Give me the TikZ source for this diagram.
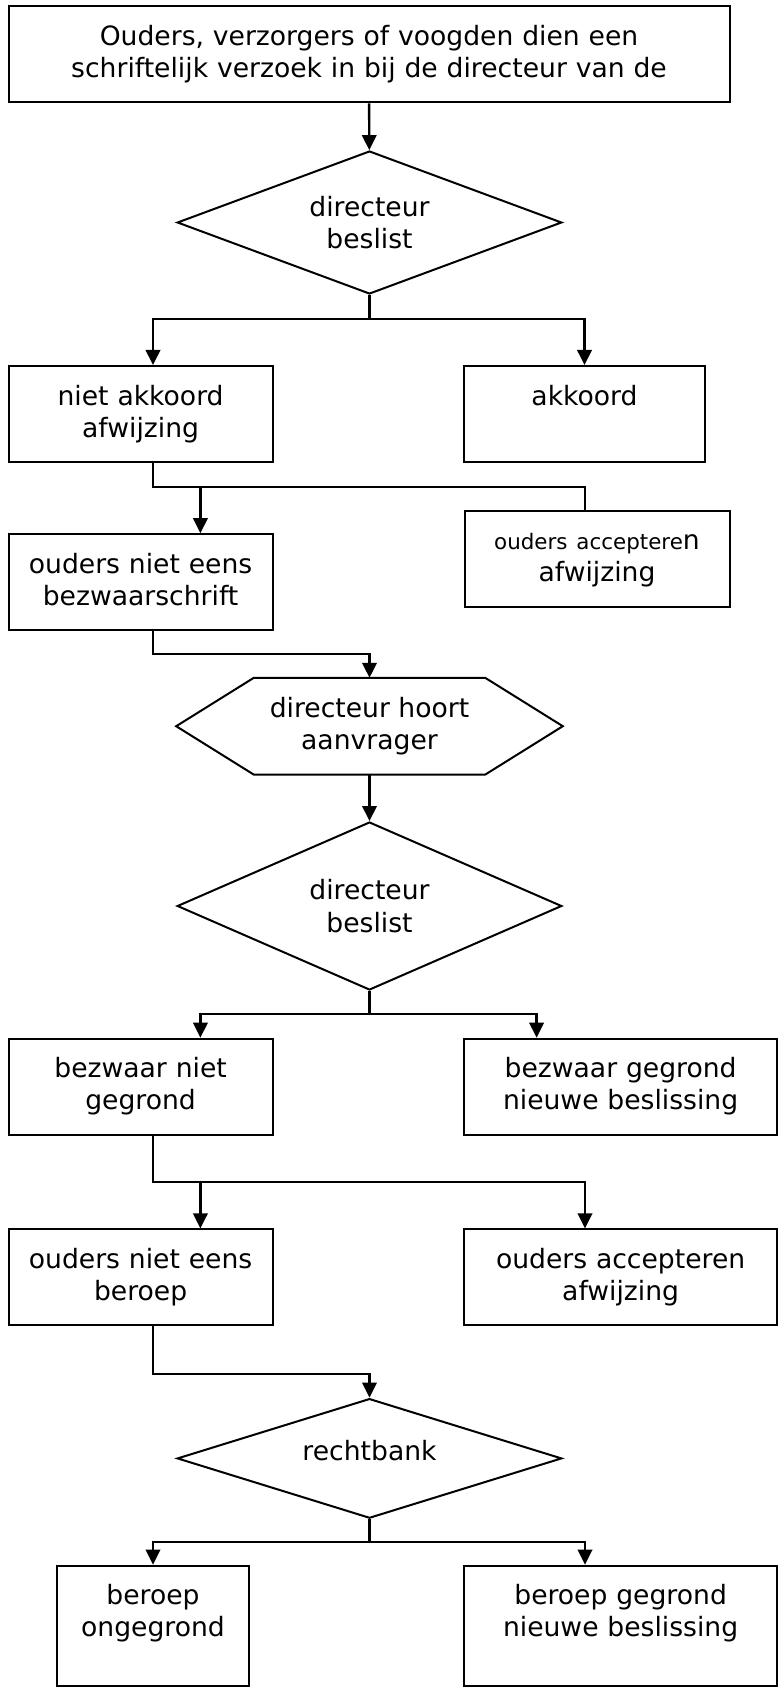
\documentclass[tikz,border=0pt]{standalone}
\usepackage{fontspec}
\setmainfont{DejaVu Sans}
\usetikzlibrary{arrows.meta, shapes.geometric}
\newcommand{\chartfont}{\fontsize{13.3}{16.1}\selectfont}
\tikzset{
  % one pixel of the sketch is half a point, y runs downward
  every picture/.append style = {line width=1pt, >={Triangle[length=7.5pt, width=7.2pt]}},
  link/.style       = {line width=1.2pt},
  stepbox/.style    = {draw, rectangle, inner sep=0pt, align=center, font=\chartfont,
                       text width=#1, text height=19.5pt, text depth=28.5pt},
  stepbox/.default  = 132pt,
  tallbox/.style    = {text depth=40.85pt},
  choice/.style     = {draw, diamond, inner sep=0pt, shape aspect=2.7, align=center,
                       font=\chartfont, minimum width=192.3pt},
  hearing/.style    = {rectangle, inner sep=0pt, align=center, font=\chartfont,
                       minimum width=192.3pt, minimum height=47.4pt},
}

\begin{document}
\begin{tikzpicture}[x=0.5pt, y=-0.5pt]
  \useasboundingbox (0,0) rectangle (779,1690);
  % request and first decision
  \node[stepbox=360.5pt] (request) at (369,54.5)
    {Ouders, verzorgers of voogden dien een\\schriftelijk verzoek in bij de directeur van de};
  \node[choice, minimum height=71.5pt] (decide1) at (369.5,222.5) {directeur\\beslist};
  \node[stepbox] (refuse) at (140.6,414) {niet akkoord\\afwijzing};
  \node[stepbox=120.2pt] (agree) at (584.5,414) {akkoord};
  % objection
  \node[stepbox] (objection) at (140.6,582.2) {ouders niet eens\\bezwaarschrift};
  \node[stepbox=132.5pt] (accept1) at (597,558.6)
    {{\fontsize{10.7}{16.1}\selectfont ouders acceptere}n\\afwijzing};
  \node[hearing] (hear) at (369.5,726.2) {directeur hoort\\aanvrager};
  \draw (hear.west) -- ([xshift=38.8pt]hear.north west) -- ([xshift=-38.8pt]hear.north east)
     -- (hear.east) -- ([xshift=-38.8pt]hear.south east) -- ([xshift=38.8pt]hear.south west) -- cycle;
  \node[choice, minimum height=84pt] (decide2) at (369.5,906) {directeur\\beslist};
  \node[stepbox] (unfounded) at (140.6,1086.7) {bezwaar niet\\gegrond};
  \node[stepbox=156.25pt] (founded) at (620.6,1086.7) {bezwaar gegrond\\nieuwe beslissing};
  % appeal
  \node[stepbox] (appeal) at (140.6,1277.4) {ouders niet eens\\beroep};
  \node[stepbox=156.25pt] (accept2) at (620.6,1277.4) {ouders accepteren\\afwijzing};
  \node[choice, minimum height=59.8pt, text depth=8pt] (court) at (369.5,1458.4) {rechtbank};
  \node[stepbox=95.9pt, tallbox] (appealno) at (153,1626) {beroep\\ongegrond};
  \node[stepbox=156.25pt, tallbox] (appealyes) at (620.6,1626) {beroep gegrond\\nieuwe beslissing};

  % lanes and forks of the connectors
  \coordinate (laneA) at (153,0);
  \coordinate (laneB) at (200.4,0);
  \coordinate (laneC) at (585,0);
  \coordinate (laneD) at (536.6,0);
  \coordinate (fork1) at (369.5,319);
  \coordinate (fork2) at (585,487);
  \coordinate (fork3) at (369.5,654);
  \coordinate (fork4) at (369.5,1014);
  \coordinate (fork5) at (585,1182);
  \coordinate (fork6) at (369.5,1373.8);
  \coordinate (fork7) at (369.5,1542);

  \draw[link, ->] (request) -- (decide1);
  \draw[link] (decide1) -- (fork1);
  \draw[link, ->] (fork1) -| (laneA |- refuse.north);
  \draw[link, ->] (fork1) -| (agree);
  \draw[link] (laneA |- refuse.south) |- (fork2) -- (accept1.north -| fork2);
  \draw[link, ->] (laneB |- fork2) -- (laneB |- objection.north);
  \draw[link, ->] (laneA |- objection.south) |- (fork3) -- (hear);
  \draw[link, ->] (hear) -- (decide2);
  \draw[link] (decide2) -- (fork4);
  \draw[link, ->] (fork4) -| (laneB |- unfounded.north);
  \draw[link, ->] (fork4) -| (laneD |- founded.north);
  \draw[link, ->] (laneA |- unfounded.south) |- (fork5) -- (fork5 |- accept2.north);
  \draw[link, ->] (laneB |- fork5) -- (laneB |- appeal.north);
  \draw[link, ->] (laneA |- appeal.south) |- (fork6) -- (court);
  \draw[link] (court) -- (fork7);
  \draw[link, ->] (fork7) -| (appealno);
  \draw[link, ->] (fork7) -| (laneC |- appealyes.north);
\end{tikzpicture}
\end{document}
